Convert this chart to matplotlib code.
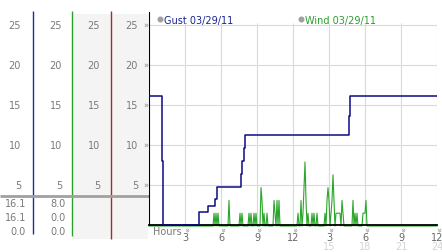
import numpy as np
import matplotlib
matplotlib.use('Agg')
import matplotlib.pyplot as plt
from matplotlib.patches import Rectangle, Circle
from matplotlib.transforms import blended_transform_factory, offset_copy

# gust readings: minute of day where value changes, value (mph)
gust_min = [0, 65, 70, 250, 295, 330, 340, 460, 465, 475, 480, 1000, 1005, 1440]
gust_val = [16.1, 8.0, 0.0, 1.6, 2.4, 3.2, 4.8, 6.4, 8.0, 9.6, 11.2, 13.6, 16.1, 16.1]

# wind: 5 minute readings that were not calm
wind_min = [325, 335, 345, 400, 455, 465, 500, 510, 525, 535, 560, 565, 575, 590,
            625, 630, 640, 650, 745, 760, 770, 775, 780, 785, 795, 815, 825, 840,
            880, 890, 895, 900, 910, 915, 920, 925, 935, 940, 945, 950, 955,
            965, 970, 1020, 1030, 1040, 1070, 1075, 1080, 1085]
wind_val = [1.6, 1.6, 1.6, 3.2, 1.6, 1.6, 1.6, 1.6, 1.6, 1.6, 4.8, 3.2, 1.6, 1.6,
            3.2, 1.6, 3.2, 3.2, 1.6, 3.2, 1.6, 4.8, 8.0, 3.2, 1.6, 1.6, 1.6, 1.6,
            1.6, 3.2, 4.8, 3.2, 1.6, 3.2, 6.4, 3.2, 1.6, 1.6, 1.6, 1.6, 1.6,
            3.2, 1.6, 3.2, 1.6, 1.6, 1.6, 1.6, 1.6, 3.2]

y_ticks = [5, 10, 15, 20, 25]
hour_ticks = [3, 6, 9, 12, 15, 18, 21, 24]
hour_labels = ['3', '6', '9', '12', '3', '6', '9', '12']
hour_ticks2 = [15, 18, 21, 24]
hour_labels2 = ['15', '18', '21', '24']
gust_stats = ['16.1', '16.1', '0.0']
wind_stats = ['8.0', '0.0', '0.0']
gust_title = 'Gust 03/29/11'
wind_title = 'Wind 03/29/11'

W, H = 442, 253
fig = plt.figure(figsize=(W / 100, H / 100), dpi=100)
fig.patch.set_facecolor('white')

# pixel overlay for the side panel and labels
pan = fig.add_axes([0, 0, 1, 1], zorder=0)
pan.set_xlim(0, W)
pan.set_ylim(H, 0)
pan.axis('off')

ax = fig.add_axes([149 / W, 27 / H, 288 / W, 213 / H], zorder=1)
ax.patch.set_alpha(0)
ax.set_xlim(0, 24)
ax.set_ylim(0, 213 / 8)
for s in ['top', 'right']:
    ax.spines[s].set_visible(False)
ax.spines['left'].set_color('black')
ax.spines['bottom'].set_color('black')
ax.spines['bottom'].set_linewidth(1.3)
ax.set_xticks([])
ax.set_yticks([])

grid_c = '#dadada'
ax.vlines(hour_ticks, 0, 25.3, color=grid_c, lw=0.8, zorder=0)
ax.hlines(y_ticks, 0, 24, color=grid_c, lw=0.8, zorder=0)

# wind series on the 5 minute grid
wind_all = np.zeros(289)
wind_all[np.array(wind_min) // 5] = wind_val
wind_hours = np.arange(289) * 5 / 60
ax.plot(wind_hours, wind_all, color='#2aa62a', lw=0.8, clip_on=False,
        transform=offset_copy(ax.transData, fig=fig, y=-1, units='dots'), zorder=2)

ax.step(np.array(gust_min) / 60, gust_val, where='post', color='#0c0c84', lw=1.1, zorder=3)

# legend
gray_txt = '#7a7a7a'
pan.add_patch(Circle((160.5, 20.5), 2.3, color='#a0a0a0'))
pan.text(164, 20.5, gust_title, color='#1a2490', fontsize=7, va='center', ha='left')
pan.add_patch(Circle((301.5, 20.5), 2.3, color='#a0a0a0'))
pan.text(305, 20.5, wind_title, color='#2a9e2a', fontsize=7, va='center', ha='left')

# side panel
pan.add_patch(Rectangle((73, 15), 38, 225, color='#f4f4f4', lw=0))
pan.add_patch(Rectangle((112, 15), 36, 225, color='#f4f4f4', lw=0))
pan.vlines(33, 12, 235, color='#1a3099', lw=1)
pan.vlines(72, 12, 237, color='#2aa02a', lw=1)
pan.vlines(111, 12, 240, color='#aa2a2a', lw=1)
pan.hlines(197, 0, 149, color='#a0a0a0', lw=2)

tr = blended_transform_factory(pan.transData, ax.transData)
for x in [21, 62, 100, 138]:
    for yt in y_ticks:
        pan.text(x, yt, str(yt), transform=tr, color=gray_txt, fontsize=7,
                 ha='right', va='center')
for yt in y_ticks:
    pan.text(145.5, yt, '»', transform=tr, color='#8a8a8a', fontsize=6,
             ha='center', va='center')

for i, (g, w) in enumerate(zip(gust_stats, wind_stats)):
    y = 204 + i * 14
    pan.text(26, y, g, color=gray_txt, fontsize=7, ha='right', va='center')
    pan.text(66, y, w, color=gray_txt, fontsize=7, ha='right', va='center')

# hour axis labels
trx = blended_transform_factory(ax.transData, pan.transData)
pan.text(153, 232, 'Hours', color=gray_txt, fontsize=7, ha='left', va='center')
for h, lab in zip(hour_ticks, hour_labels):
    pan.text(h, 230, '»', transform=trx, color='#8a8a8a', fontsize=6,
             ha='center', va='center', rotation=-90)
    pan.text(h, 238.5, lab, transform=trx, color='#666666', fontsize=7,
             ha='center', va='center')
for h, lab in zip(hour_ticks2, hour_labels2):
    pan.text(h, 247, lab, transform=trx, color='#d4d4d4', fontsize=7,
             ha='center', va='center')

fig.savefig('out.png', dpi=100)
